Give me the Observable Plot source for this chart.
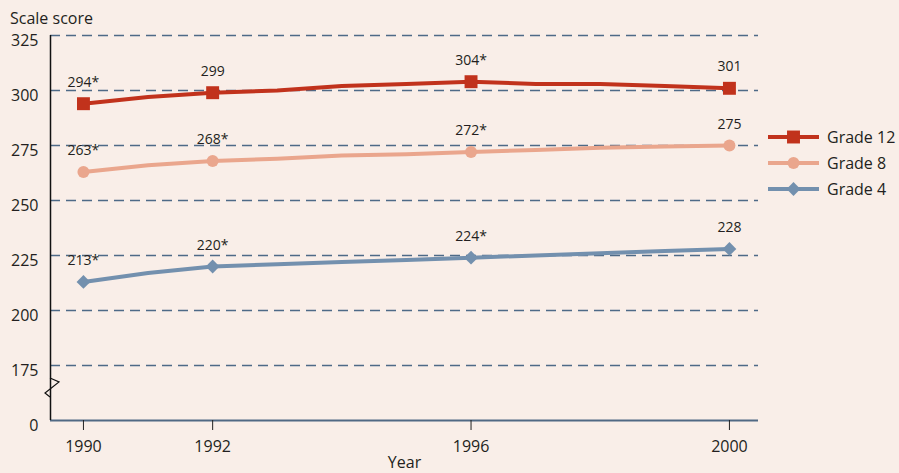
<!DOCTYPE html>
<html>
<head>
<meta charset="utf-8">
<script src="https://cdn.jsdelivr.net/npm/d3@7"></script>
<script src="https://cdn.jsdelivr.net/npm/@observablehq/plot@0.6"></script>
<style>
  html, body { margin: 0; padding: 0; background: #f9eee8; overflow: hidden; }
  #wrap { position: relative; width: 899px; height: 473px; font-family: "Open Sans", sans-serif; color: #231f20; }
  #title { position: absolute; left: 10px; top: 10px; font-size: 16px; line-height: 16px; }
  #legend { position: absolute; left: 768px; top: 124px; font-size: 16px; }
  .row { display: flex; align-items: center; height: 26px; }
  .row span { margin-left: 7px; }
</style>
</head>
<body>
<div id="wrap">
  <div id="chart"></div>
  <div id="title">Scale score</div>
  <div id="legend"></div>
</div>
<script>
// ---- data ----
const years   = [1990, 1991, 1992, 1993, 1994, 1995, 1996, 1997, 1998, 1999, 2000];
const grade12 = [294, 297, 299, 300, 302, 303, 304, 303, 303, 302, 301];
const grade8  = [263, 266, 268, 269, 270.5, 271, 272, 273, 274, 274.5, 275];
const grade4  = [213, 217, 220, 221, 222, 223, 224, 225, 226, 227, 228];
const markerYears = [1990, 1992, 1996, 2000];
const sig12 = [true, false, true, false];
const sig8  = [true, true, true, false];
const sig4  = [true, true, true, false];
const seriesNames = ["Grade 12", "Grade 8", "Grade 4"];
const yTicks = [150, 175, 200, 225, 250, 275, 300, 325];
const yTickLabels = ["0", "175", "200", "225", "250", "275", "300", "325"];
const xTicks = [1990, 1992, 1996, 2000];

// ---- styles ----
const colors = {"Grade 12": "#c1321c", "Grade 8": "#eaa68d", "Grade 4": "#7390ae"};
const symbols = {"Grade 12": "square", "Grade 8": "circle", "Grade 4": "diamond2"};
const radii = {"Grade 12": 7.3, "Grade 8": 6, "Grade 4": 6.2};

const valueSets = {"Grade 12": grade12, "Grade 8": grade8, "Grade 4": grade4};
const sigSets = {"Grade 12": sig12, "Grade 8": sig8, "Grade 4": sig4};

const rows = [];
for (const g of seriesNames) years.forEach((yr, i) => rows.push({grade: g, year: yr, score: valueSets[g][i]}));
const pts = [];
for (const g of seriesNames) markerYears.forEach((yr, i) => {
  const score = valueSets[g][years.indexOf(yr)];
  pts.push({grade: g, year: yr, score, label: String(score) + (sigSets[g][i] ? "*" : "")});
});

const textColor = "#231f20";
const gridColor = "#4e6a87";

const marks = [
  Plot.ruleY(yTicks.slice(1), {stroke: gridColor, strokeWidth: 1.3, strokeDasharray: "10,6"}),
  Plot.ruleY([150], {stroke: "#506984", strokeWidth: 2}),
  Plot.ruleX([1989.49], {y1: 150, y2: 325, stroke: "#111", strokeWidth: 1.5}),
  Plot.axisY({ticks: yTicks, tickFormat: d => yTickLabels[yTicks.indexOf(d)], tickSize: 0, tickPadding: 12, dy: 5, fontSize: 16, label: null, fill: textColor}),
  Plot.axisX({ticks: xTicks, tickFormat: d => String(d), tickSize: 10, tickPadding: 10, fontSize: 16, label: null, stroke: "#222", fill: textColor}),
  Plot.text(["Year"], {frameAnchor: "bottom", lineAnchor: "top", dy: 36, fontSize: 16, fill: textColor}),
];
for (const g of seriesNames) {
  marks.push(Plot.line(rows.filter(d => d.grade === g), {x: "year", y: "score", stroke: colors[g], strokeWidth: 4}));
}
for (const g of seriesNames) {
  marks.push(Plot.dot(pts.filter(d => d.grade === g), {x: "year", y: "score", fill: colors[g], symbol: symbols[g], r: radii[g], stroke: "none"}));
  marks.push(Plot.text(pts.filter(d => d.grade === g), {x: "year", y: "score", text: "label", lineAnchor: "bottom", dy: -17, fontSize: 14, fill: textColor}));
}

const plot = Plot.plot({
  width: 899,
  height: 473,
  marginTop: 35,
  marginBottom: 53,
  marginLeft: 50,
  marginRight: 141,
  x: {domain: [1989.49, 2000.45]},
  y: {domain: [150, 325]},
  style: {fontFamily: "Open Sans, sans-serif", fontSize: "16px", background: "transparent", color: textColor, overflow: "visible"},
  marks
});

// axis break marker
const ys = plot.scale("y"), xs = plot.scale("x");
const bx = xs.apply(1989.49), by = ys.apply(165);
d3.select(plot).append("path")
  .attr("d", `M${bx},${by - 9}L${bx + 9},${by - 5}L${bx - 5},${by + 6}L${bx},${by + 10}`)
  .attr("fill", "none").attr("stroke", "#111").attr("stroke-width", 1.2);

document.getElementById("chart").append(plot);

// legend
const legend = document.getElementById("legend");
for (const g of seriesNames) {
  const row = document.createElement("div");
  row.className = "row";
  const sw = d3.create("svg").attr("width", 52).attr("height", 18);
  sw.append("line").attr("x1", 0).attr("x2", 51).attr("y1", 9).attr("y2", 9).attr("stroke", colors[g]).attr("stroke-width", 4);
  sw.append("path").attr("transform", "translate(25.5,9)")
    .attr("d", d3.symbol(g === "Grade 12" ? d3.symbolSquare : g === "Grade 8" ? d3.symbolCircle : d3.symbolDiamond2, Math.PI * radii[g] * radii[g])())
    .attr("fill", colors[g]);
  row.append(sw.node());
  const s = document.createElement("span");
  s.textContent = g;
  row.append(s);
  legend.append(row);
}
</script>
</body>
</html>
